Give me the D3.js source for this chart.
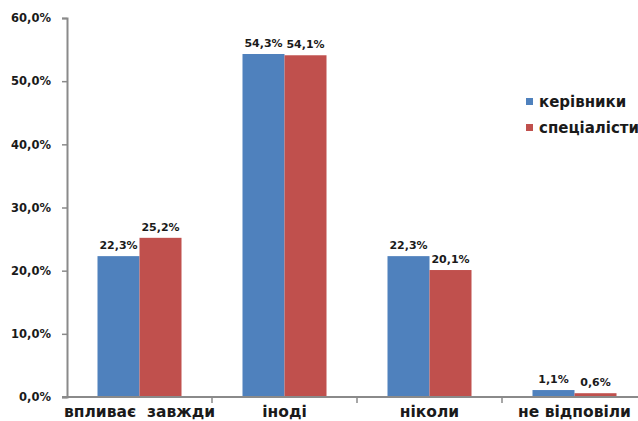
<!DOCTYPE html>
<html>
<head>
<meta charset="utf-8">
<script src="https://cdn.jsdelivr.net/npm/d3@7"></script>
<style>
  html, body { margin: 0; padding: 0; background: #fff; }
  svg { display: block; }
  text { font-family: "DejaVu Sans", Arial, sans-serif; font-weight: bold; fill: #1a1a1a; }
</style>
</head>
<body>
<svg id="chart" width="638" height="421"></svg>
<script>
// Survey answers by group (percent)
const categories = ["впливає  завжди", "іноді", "ніколи", "не відповіли"];
const seriesNames = ["керівники", "спеціалісти"];
const managers = [22.3, 54.3, 22.3, 1.1];
const specialists = [25.2, 54.1, 20.1, 0.6];
const yTicks = [0, 10, 20, 30, 40, 50, 60];
const colors = ["#4F81BD", "#C0504D"];

const svg = d3.select("#chart");
const plot = { left: 67, right: 647, top: 18, bottom: 397 };

const x = d3.scaleBand().domain(categories).range([plot.left, plot.right]).paddingInner(0).paddingOuter(0);
const inner = d3.scaleBand().domain(seriesNames).range([0, x.bandwidth()]).paddingInner(0).paddingOuter(0.726);
const y = d3.scaleLinear().domain([0, 60]).range([plot.bottom, plot.top]);

const fmt = v => d3.format(".1f")(v).replace(".", ",") + "%";

// Y axis
const yAxis = d3.axisLeft(y).tickValues(yTicks).tickSize(5).tickPadding(11).tickFormat(fmt);
const gy = svg.append("g").attr("transform", `translate(${plot.left},0)`).call(yAxis);
gy.select(".domain").attr("stroke", "#8a8a8a").attr("stroke-width", 2);
gy.selectAll(".tick line").attr("stroke", "#8a8a8a").attr("stroke-width", 1.5);
gy.selectAll(".tick text").attr("font-size", 11.5).attr("fill", "#1a1a1a")
  .style("font-family", "'DejaVu Sans', Arial, sans-serif").style("font-weight", "bold");

// Bars with value labels
const series = [managers, specialists];
series.forEach((vals, si) => {
  svg.append("g").selectAll("rect").data(categories).join("rect")
    .attr("x", c => x(c) + inner(seriesNames[si]))
    .attr("y", (c, i) => y(vals[i]))
    .attr("width", inner.bandwidth())
    .attr("height", (c, i) => y(0) - y(vals[i]))
    .attr("fill", colors[si]);
  svg.append("g").selectAll("text").data(categories).join("text")
    .attr("x", c => x(c) + inner(seriesNames[si]) + inner.bandwidth() / 2)
    .attr("y", (c, i) => y(vals[i]) - 7)
    .attr("text-anchor", "middle")
    .attr("font-size", 11)
    .text((c, i) => fmt(vals[i]));
});

// X axis
const gx = svg.append("g").attr("transform", `translate(0,${plot.bottom})`);
gx.append("line").attr("x1", plot.left - 5).attr("x2", plot.right).attr("y1", 0).attr("y2", 0)
  .attr("stroke", "#8a8a8a").attr("stroke-width", 2);
gx.selectAll("line.tk").data(categories.slice(1)).join("line").attr("class", "tk")
  .attr("x1", c => x(c)).attr("x2", c => x(c)).attr("y1", 0).attr("y2", 6)
  .attr("stroke", "#8a8a8a").attr("stroke-width", 1.5);
gx.selectAll("text").data(categories).join("text")
  .attr("x", c => x(c) + x.bandwidth() / 2)
  .attr("y", 20)
  .attr("text-anchor", "middle")
  .attr("font-size", 15.5)
  .style("white-space", "pre")
  .text(c => c);

// Legend
const lg = svg.append("g").attr("transform", "translate(526,98)");
seriesNames.forEach((n, i) => {
  lg.append("rect").attr("x", 0).attr("y", i * 26).attr("width", 7).attr("height", 7).attr("fill", colors[i]);
  lg.append("text").attr("x", 13).attr("y", i * 26 + 9).attr("font-size", 15).text(n);
});
</script>
</body>
</html>
